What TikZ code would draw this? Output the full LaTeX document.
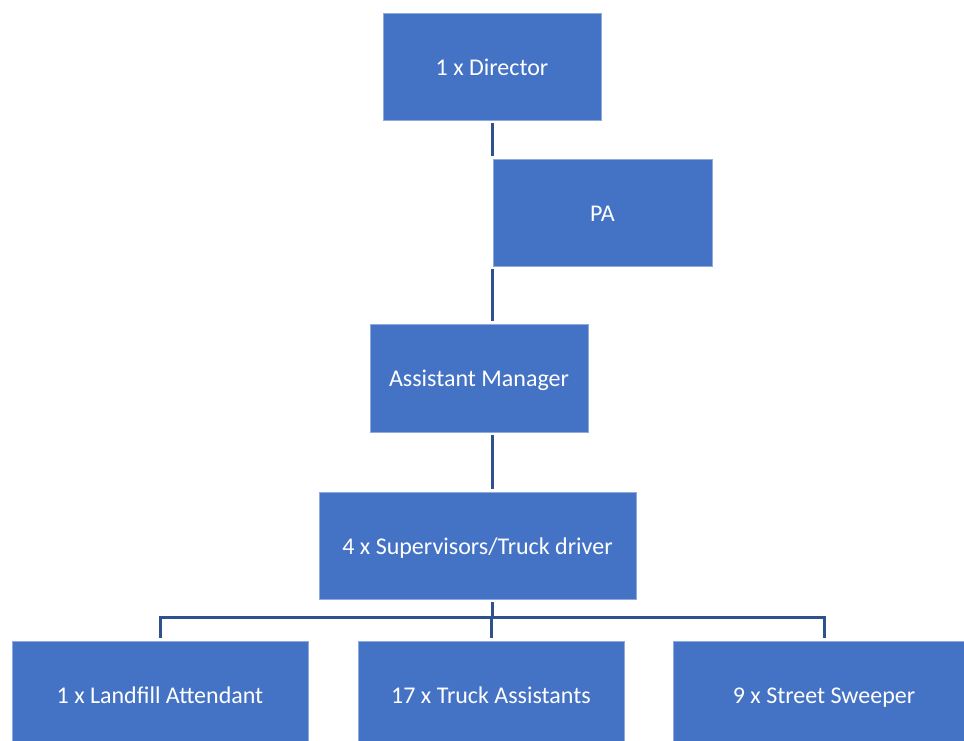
\documentclass[tikz,border=0pt]{standalone}
\usepackage{fontspec}
\setmainfont{Carlito}
\definecolor{fillblue}{HTML}{4472C4}
\definecolor{edgeblue}{HTML}{8FAADC}
\definecolor{linkblue}{HTML}{2F528F}
\usetikzlibrary{positioning,calc}
\tikzset{
  role/.style={draw=edgeblue,line width=0.8pt,fill=fillblue,text=white,align=center,
               minimum height=107pt,inner sep=0pt,text height=17pt,text depth=0pt,
               font=\fontsize{24}{28}\selectfont},
  link/.style={draw=linkblue,line width=3pt,shorten <=3pt,shorten >=3pt}
}
\begin{document}
\begin{tikzpicture}[x=1pt,y=-1pt]
    \useasboundingbox (0,0) rectangle (964,740);
    \node[role,minimum width=218pt] (dir) at (492,66.5) {1 x Director};
    \node[role,minimum width=219pt] (pa) at (602.5,212.5) {PA};
    \node[role,minimum width=218pt,minimum height=108pt] (am) at (479,378) {Assistant Manager};
    \node[role,minimum width=317pt] (sup) at (477.5,545.5) {4 x Supervisors/Truck driver};
    \node[role,minimum width=296pt] (land) at (160,694.5) {1 x Landfill Attendant};
    \node[role,minimum width=266pt] (truck) at (491,694.5) {17 x Truck Assistants};
    \node[role,minimum width=302pt] (street) at (824,694.5) {9 x Street Sweeper};
    \coordinate (bus) at (492,617);
    \draw[link] (dir.south) -- (dir.south |- pa.north);
    \draw[link] (dir.south |- pa.south) -- (dir.south |- am.north);
    \draw[link] (am.south -| dir.south) -- (sup.north -| dir.south);
    \foreach \c in {land,truck,street}
      \draw[link,line join=miter] (sup.south -| dir.south) -- (bus) -| (\c.north);
\end{tikzpicture}
\end{document}
